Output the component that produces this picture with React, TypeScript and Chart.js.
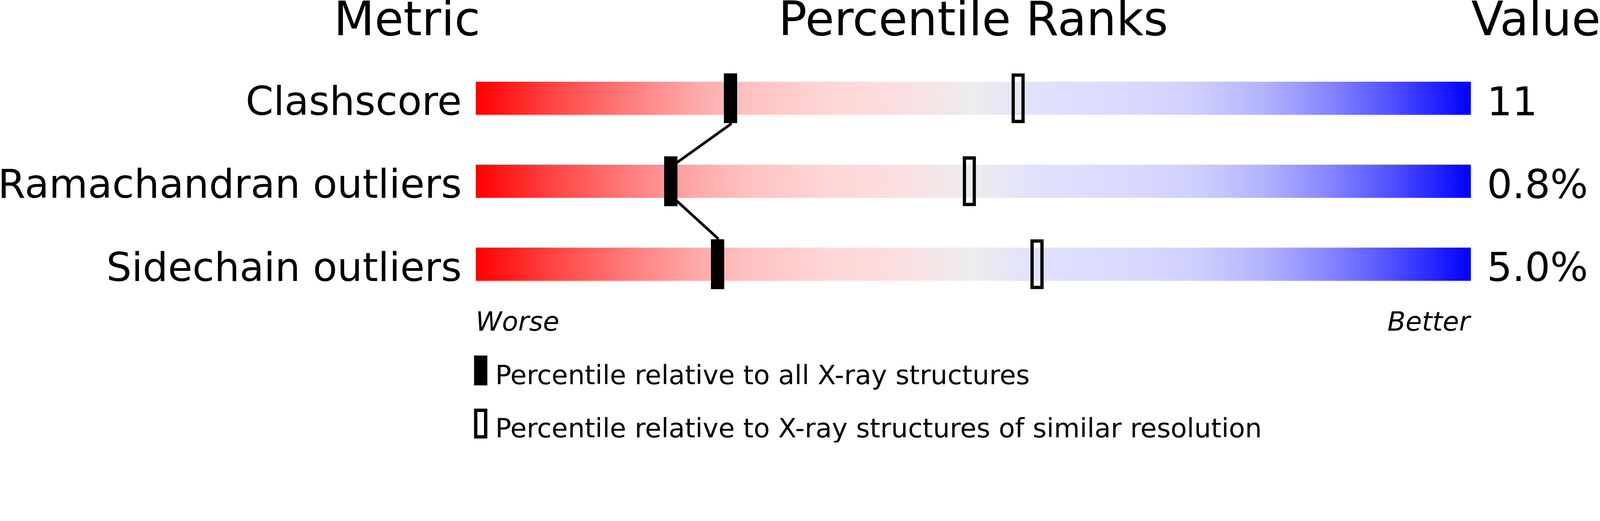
import React, { useRef, useEffect } from 'react';
import { Chart, registerables } from 'chart.js';

Chart.register(...registerables);

// metric rows, top to bottom
const metrics = ['Clashscore', 'Ramachandran outliers', 'Sidechain outliers'];
const metricValues = ['11', '0.8%', '5.0%'];
// percentile vs all X-ray structures (black) and vs similar resolution (open)
const pctAll = [25.6, 19.6, 24.3];
const pctSimilar = [54.5, 49.6, 56.4];

const legendLabels = [
  'Percentile relative to all X-ray structures',
  'Percentile relative to X-ray structures of similar resolution',
];

const FONT = '"DejaVu Sans", sans-serif';
const BASE_W = 4823; // layout below is designed for 4823 x 1333
const BASE_H = 1333;
const MARKER_HALF = 0.667; // half width of a marker, in percentile units
const TRACK_FRACTION = 0.4;
const MARKER_FRACTION = 0.6;

const gradientStops: [number, string][] = [
  [0, 'rgb(255,0,0)'],
  [0.08, 'rgb(255,70,70)'],
  [0.155, 'rgb(255,125,125)'],
  [0.22, 'rgb(255,168,168)'],
  [0.27, 'rgb(255,192,192)'],
  [0.355, 'rgb(255,214,214)'],
  [0.42, 'rgb(252,222,224)'],
  [0.5, 'rgb(237,236,238)'],
  [0.57, 'rgb(224,224,254)'],
  [0.65, 'rgb(218,218,254)'],
  [0.72, 'rgb(208,208,255)'],
  [0.79, 'rgb(180,180,255)'],
  [0.856, 'rgb(135,135,255)'],
  [0.92, 'rgb(80,80,255)'],
  [1, 'rgb(0,0,255)'],
];

const makeTextPlugin = (s: number) => ({
  id: 'sliderText',
  afterDraw(chart: any) {
    const { ctx, chartArea } = chart;
    const x = chart.scales.x;
    const y = chart.scales.y;
    const left = x.getPixelForValue(0);
    const right = x.getPixelForValue(100);
    ctx.save();
    ctx.fillStyle = '#000';
    ctx.strokeStyle = '#000';
    ctx.textBaseline = 'alphabetic';

    // column headers
    const hy = chartArea.top - 65 * s;
    ctx.font = `${142 * s}px ${FONT}`;
    ctx.textAlign = 'center';
    ctx.fillText('Metric', left - 207 * s, hy);
    ctx.fillText('Percentile Ranks', (left + right) / 2, hy);
    ctx.textAlign = 'left';
    ctx.fillText('Value', right + 1 * s, hy);

    // row labels and values
    ctx.font = `${120 * s}px ${FONT}`;
    metrics.forEach((m, i) => {
      const cy = y.getPixelForValue(i);
      ctx.textAlign = 'right';
      ctx.fillText(m, left - 42 * s, cy + 50 * s);
      ctx.textAlign = 'left';
      ctx.fillText(metricValues[i], right + 48 * s, cy + 51 * s);
    });

    // worse / better
    ctx.font = `italic ${80 * s}px ${FONT}`;
    const wy = chartArea.bottom + 75 * s;
    ctx.textAlign = 'left';
    ctx.fillText('Worse', left, wy);
    ctx.textAlign = 'right';
    ctx.fillText('Better', right - 3 * s, wy);

    // legend
    ctx.font = `${80 * s}px ${FONT}`;
    ctx.textAlign = 'left';
    legendLabels.forEach((label, i) => {
      const top = chartArea.bottom + (150 + i * 160) * s;
      if (i === 0) {
        ctx.fillRect(left - 5 * s, top, 40 * s, 90 * s);
      } else {
        ctx.lineWidth = 10 * s;
        ctx.strokeRect(left, top + 5 * s, 30 * s, 80 * s);
      }
      ctx.fillText(label, left + 59 * s, top + 86 * s);
    });
    ctx.restore();
  },
});

export default function App() {
  const canvasRef = useRef<HTMLCanvasElement | null>(null);
  const s = window.innerWidth / BASE_W;

  useEffect(() => {
    document.body.style.margin = '0';
    document.body.style.overflow = 'hidden';
    if (!canvasRef.current) return;

    const connector = pctAll.flatMap((p, i) => [
      { x: p, y: i - TRACK_FRACTION / 2 },
      { x: p, y: i + TRACK_FRACTION / 2 },
    ]);

    const chart = new Chart(canvasRef.current, {
      type: 'bar',
      data: {
        labels: metrics,
        datasets: [
          {
            label: 'all',
            data: pctAll.map(p => [p - MARKER_HALF, p + MARKER_HALF]),
            backgroundColor: '#000',
            borderWidth: 0,
            grouped: false,
            categoryPercentage: 1,
            barPercentage: MARKER_FRACTION,
          },
          {
            label: 'similar',
            data: pctSimilar.map(p => [p - MARKER_HALF, p + MARKER_HALF]),
            backgroundColor: 'rgba(0,0,0,0)',
            borderColor: '#000',
            borderWidth: 10 * s,
            borderSkipped: false,
            grouped: false,
            categoryPercentage: 1,
            barPercentage: MARKER_FRACTION,
          },
          {
            type: 'line',
            label: 'connector',
            data: connector,
            yAxisID: 'yLine',
            borderColor: '#000',
            borderWidth: 8 * s,
            pointRadius: 0,
            tension: 0,
            fill: false,
          } as any,
          {
            label: 'track',
            data: metrics.map(() => [0, 100]),
            backgroundColor: (c: any) => {
              const area = c.chart.chartArea;
              if (!area) return 'rgba(0,0,0,0)';
              const g = c.chart.ctx.createLinearGradient(area.left, 0, area.right, 0);
              gradientStops.forEach(([o, col]) => g.addColorStop(o, col));
              return g;
            },
            borderWidth: 0,
            grouped: false,
            categoryPercentage: 1,
            barPercentage: TRACK_FRACTION,
          },
        ],
      },
      options: {
        indexAxis: 'y',
        animation: false,
        responsive: true,
        maintainAspectRatio: false,
        layout: { padding: { left: 1434 * s, right: 389 * s, top: 171 * s, bottom: 412 * s } },
        scales: {
          x: { type: 'linear', min: 0, max: 100, display: false },
          y: { type: 'category', display: false, offset: true },
          yLine: { type: 'linear', min: -0.5, max: 2.5, reverse: true, display: false },
        },
        plugins: {
          legend: { display: false },
          title: { display: false },
          tooltip: { enabled: false },
        },
      },
      plugins: [makeTextPlugin(s)],
    });

    return () => chart.destroy();
  }, []);

  return (
    <div style={{ position: 'relative', width: BASE_W * s, height: BASE_H * s, background: '#fff' }}>
      <canvas ref={canvasRef}></canvas>
    </div>
  );
}
